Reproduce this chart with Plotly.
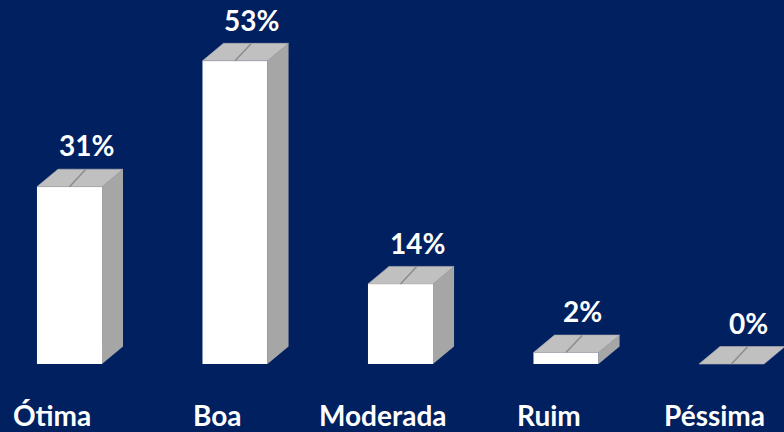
import plotly.graph_objects as go

categories = ["Ótima", "Boa", "Moderada", "Ruim", "Péssima"]
values = [31, 53, 14, 2, 0]
value_labels = ["31%", "53%", "14%", "2%", "0%"]

# style / geometry constants (in axis units)
BAR_W = 0.393
DX = 0.127
DY = 3.06
BG = "#002060"
TOP_COLOR = "#C0C0C0"
SIDE_COLOR = "#A6A6A6"
FONT = "Lato"

xs = list(range(len(categories)))

fig = go.Figure()
fig.add_trace(go.Bar(x=xs, y=values, width=BAR_W, marker=dict(color="white", line=dict(width=0)),
                     hoverinfo="skip", showlegend=False))

for x, v in zip(xs, values):
    l, r = x - BAR_W / 2, x + BAR_W / 2
    # right side face
    if v > 0:
        fig.add_trace(go.Scatter(x=[r, r, r + DX, r + DX, r], y=[0, v, v + DY, DY, 0],
                                 fill="toself", fillcolor=SIDE_COLOR, mode="lines",
                                 line=dict(width=0, color=SIDE_COLOR), hoverinfo="skip", showlegend=False))
    # top face
    fig.add_trace(go.Scatter(x=[l, l + DX, r + DX, r, l], y=[v, v + DY, v + DY, v, v],
                             fill="toself", fillcolor=TOP_COLOR, mode="lines",
                             line=dict(width=0.6, color="#B0B0B0"), hoverinfo="skip", showlegend=False))
    # leader line
    fig.add_trace(go.Scatter(x=[x, x + 0.097], y=[v, v + 3.0], mode="lines",
                             line=dict(width=1.5, color="#8C8C8C"), hoverinfo="skip", showlegend=False))

annotations = []
for x, v, lab in zip(xs, values, value_labels):
    annotations.append(dict(x=x + 0.1, y=v + 7.2, xref="x", yref="y", text=f"<b>{lab}</b>",
                            showarrow=False, font=dict(family=FONT, size=28, color="white"),
                            xanchor="center", yanchor="middle"))
for x, c in zip(xs, categories):
    annotations.append(dict(x=x - 0.103, y=-9.0, xref="x", yref="y", text=f"<b>{c}</b>",
                            showarrow=False, font=dict(family=FONT, size=28, color="white"),
                            xanchor="center", yanchor="middle"))

fig.update_layout(
    width=784, height=432,
    margin=dict(l=0, r=0, t=0, b=0),
    paper_bgcolor=BG, plot_bgcolor=BG,
    xaxis=dict(range=[-0.4199, 4.3172], visible=False, fixedrange=True),
    yaxis=dict(range=[-11.888, 63.636], visible=False, fixedrange=True),
    annotations=annotations,
    showlegend=False,
)

fig.write_html("out.html", config={"displayModeBar": False},
               post_script="document.body.style.margin='0';document.body.style.overflow='hidden';")
